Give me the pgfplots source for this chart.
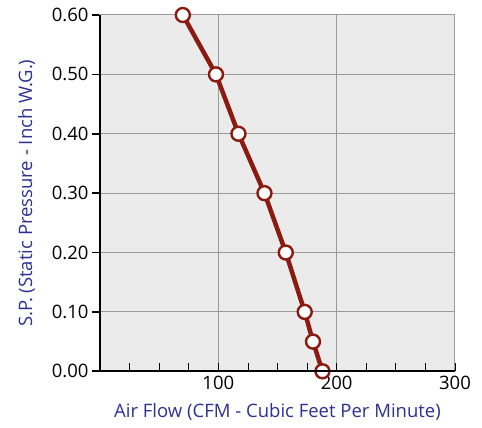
\documentclass[border=0pt]{standalone}
\usepackage{pgfplots}
\pgfplotsset{compat=1.18}
\usepackage{fontspec}
\setmainfont{Open Sans}
\definecolor{lbl}{HTML}{2E3192}
\definecolor{curve}{HTML}{8B1A10}
\definecolor{bg}{HTML}{EBEBEB}
\definecolor{gridc}{HTML}{9A9A9A}
\begin{document}
\begin{tikzpicture}[x=1pt,y=1pt]
\path[use as bounding box] (-100,-56) rectangle (382,371.3);
\begin{axis}[
  at={(0,0)}, anchor=origin,
  scale only axis, width=355pt, height=356.3pt,
  xmin=0, xmax=300, ymin=0, ymax=0.6,
  xtick={100,200,300}, minor xtick={25,50,75,125,150,175,225,250,275},
  ytick={0,0.1,0.2,0.3,0.4,0.5,0.6},
  xtick pos=bottom, ytick pos=left,
  xtick align=inside, ytick align=outside,
  major tick length=8pt, minor tick length=8pt,
  every major tick/.style={black, line width=1.6pt},
  every minor tick/.style={black, line width=0.8pt},
  grid=major, major grid style={gridc, line width=1pt},
  axis background/.style={fill=bg},
  axis line style={gridc, line width=1pt},
  /pgf/number format/assume math mode=true,
  tick label style={font=\fontsize{18.5}{22}\selectfont, black},
  yticklabel style={/pgf/number format/.cd, fixed, fixed zerofill, precision=2},
  xticklabel style={yshift=-1pt},
  xlabel={Air Flow (CFM - Cubic Feet Per Minute)},
  ylabel={S.P. (Static Pressure - Inch W.G.)},
  label style={font=\fontsize{18.5}{22}\selectfont, text=lbl},
  xlabel style={yshift=-7pt},
  ylabel style={yshift=10pt},
  clip=false,
  after end axis/.code={
    \draw[black, line width=2pt] (rel axis cs:0,1) -- (rel axis cs:0,0) -- (rel axis cs:1,0);
  },
]
\addplot[curve, line width=4.5pt, mark=*, mark size=7pt,
  mark options={fill=white, draw=curve, line width=2.4pt}]
  coordinates {
  (70,0.60) (98,0.50) (117,0.40) (139,0.30) (157,0.20) (173,0.10) (180,0.05) (188,0.00)
  };
\end{axis}
\end{tikzpicture}
\end{document}
